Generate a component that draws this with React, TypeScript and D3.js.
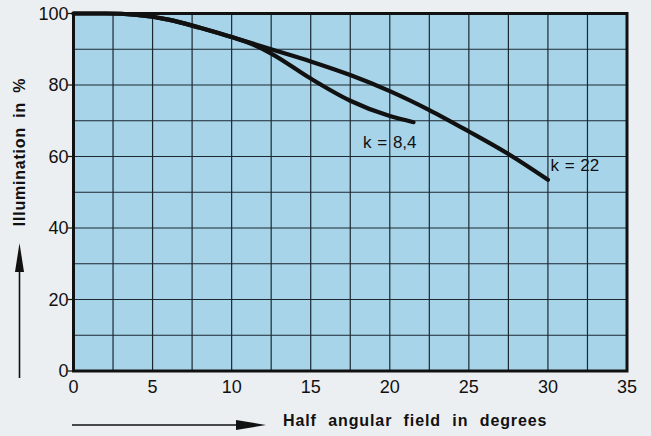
import React from "react";
import * as d3 from "d3";

const xTicks = [0, 5, 10, 15, 20, 25, 30, 35];
const yTicks = [0, 20, 40, 60, 80, 100];
const xGrid = [2.5, 5, 7.5, 10, 12.5, 15, 17.5, 20, 22.5, 25, 27.5, 30, 32.5];
const yGrid = [10, 20, 30, 40, 50, 60, 70, 80, 90];

const k22Angle = [0, 2, 4, 6, 8, 10, 12.5, 15, 17.5, 20, 22.5, 25, 27.5, 30];
const k22Illum = [100, 100, 99.6, 98.3, 96, 93.4, 90, 86.6, 82.8, 78.3, 73, 67, 60.7, 53.5];
const k84Angle = [0, 2, 4, 6, 8, 10, 11.2, 12.5, 15, 17.5, 20, 21.5];
const k84Illum = [100, 100, 99.6, 98.3, 96, 93.4, 91.6, 88.8, 81.8, 75.6, 71.3, 69.6];

const labels = [
  { text: "k = 8,4", x: 20.0, y: 63.7 },
  { text: "k = 22", x: 31.7, y: 57.3 },
];

export default function App() {
  const W = 651, H = 436;
  const x = d3.scaleLinear().domain([0, 35]).range([73.5, 627]);
  const y = d3.scaleLinear().domain([0, 100]).range([371, 13.5]);
  const line = d3
    .line<[number, number]>()
    .x((d) => x(d[0]))
    .y((d) => y(d[1]))
    .curve(d3.curveMonotoneX);
  const k22 = k22Angle.map((a, i) => [a, k22Illum[i]] as [number, number]);
  const k84 = k84Angle.map((a, i) => [a, k84Illum[i]] as [number, number]);
  const font = "'Liberation Sans', Arial, sans-serif";
  const ink = "#111";
  return (
    <svg
      width={W}
      height={H}
      style={{ position: "fixed", left: 0, top: 0 }}
      fontFamily={font}
    >
      <rect x={0} y={0} width={W} height={H} fill="#eceff1" />
      <rect
        x={x(0)}
        y={y(100)}
        width={x(35) - x(0)}
        height={y(0) - y(100)}
        fill="#a8d4ea"
      />
      {xGrid.map((g) => (
        <line key={"xg" + g} x1={x(g)} x2={x(g)} y1={y(0)} y2={y(100)} stroke="#1b2830" strokeWidth={1.2} />
      ))}
      {yGrid.map((g) => (
        <line key={"yg" + g} x1={x(0)} x2={x(35)} y1={y(g)} y2={y(g)} stroke="#1b2830" strokeWidth={1.2} />
      ))}
      {yTicks.map((t) => (
        <line key={"yt" + t} x1={x(0) - 6} x2={x(0)} y1={y(t)} y2={y(t)} stroke={ink} strokeWidth={1.2} />
      ))}
      <rect
        x={x(0)}
        y={y(100)}
        width={x(35) - x(0)}
        height={y(0) - y(100)}
        fill="none"
        stroke={ink}
        strokeWidth={3}
      />
      <path d={line(k22) || ""} fill="none" stroke={ink} strokeWidth={4.2} strokeLinecap="round" />
      <path d={line(k84) || ""} fill="none" stroke={ink} strokeWidth={4.2} strokeLinecap="round" />
      {labels.map((l) => (
        <text key={l.text} x={x(l.x)} y={y(l.y)} fontSize={17} fill={ink} textAnchor="middle" dominantBaseline="middle" wordSpacing={1}>
          {l.text}
        </text>
      ))}
      {xTicks.map((t) => (
        <text key={"xl" + t} x={x(t)} y={y(0) + 22} fontSize={18} fill={ink} textAnchor="middle">
          {t}
        </text>
      ))}
      {yTicks.map((t) => (
        <text key={"yl" + t} x={x(0) - 5} y={y(t) + 6} fontSize={18} fill={ink} textAnchor="end">
          {t}
        </text>
      ))}
      <text
        transform={`translate(25,${152}) rotate(-90)`}
        fontSize={16}
        fontWeight="bold"
        fill={ink}
        textAnchor="middle"
        letterSpacing={0.8}
        wordSpacing={4}
      >
        Illumination in %
      </text>
      <line x1={19.5} x2={19.5} y1={378} y2={268} stroke={ink} strokeWidth={1.6} />
      <path d="M19.5,243 L15,272 L24,272 Z" fill={ink} />
      <text
        x={283}
        y={426}
        fontSize={16}
        fontWeight="bold"
        fill={ink}
        letterSpacing={0.9}
        wordSpacing={6}
      >
        Half angular field in degrees
      </text>
      <line x1={72} x2={240} y1={425} y2={425} stroke={ink} strokeWidth={1.6} />
      <path d="M266,425 L236,420 L236,430 Z" fill={ink} />
    </svg>
  );
}
